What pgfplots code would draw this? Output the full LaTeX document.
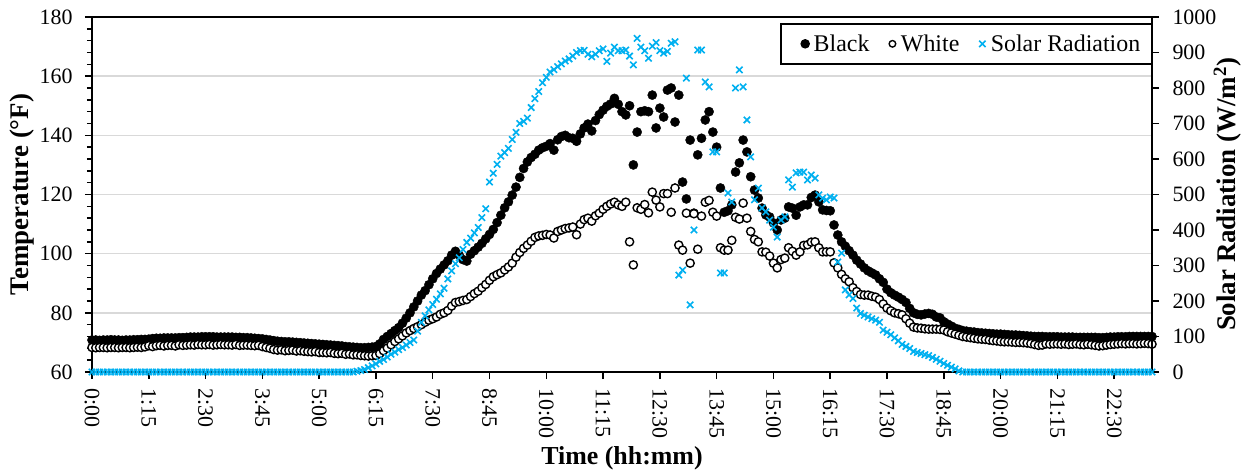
\documentclass[border=0pt]{standalone}
\usepackage{fontspec}
\setmainfont{Liberation Serif}
\usepackage{pgfplots}
\pgfplotsset{compat=1.18}
\usepackage{pgfplotstable}
\definecolor{solar}{RGB}{0,176,240}
\definecolor{gridgray}{RGB}{217,217,217}
\pgfplotstableread{
t b w s
0 70.8 68.3 0
5 70.8 68.2 0
10 70.7 68.3 0
15 70.8 68.3 0
20 70.8 68.2 0
25 70.9 68.3 0
30 70.8 68.3 0
35 70.8 68.2 0
40 70.7 68.3 0
45 70.8 68.3 0
50 70.8 68.2 0
55 70.9 68.3 0
60 70.9 68.4 0
65 71.0 68.3 0
70 71.0 68.5 0
75 71.1 68.9 0
80 71.3 68.6 0
85 71.4 68.9 0
90 71.4 69.0 0
95 71.5 68.8 0
100 71.5 69.0 0
105 71.5 69.0 0
110 71.5 68.8 0
115 71.6 69.2 0
120 71.6 69.0 0
125 71.7 69.1 0
130 71.8 69.2 0
135 71.8 69.1 0
140 71.8 69.3 0
145 71.9 69.2 0
150 71.9 69.2 0
155 71.9 69.3 0
160 71.9 69.1 0
165 71.8 69.2 0
170 71.8 69.3 0
175 71.8 69.2 0
180 71.8 69.2 0
185 71.8 69.1 0
190 71.7 69.3 0
195 71.7 69.0 0
200 71.6 69.1 0
205 71.6 69.1 0
210 71.5 69.0 0
215 71.4 68.9 0
220 71.3 69.0 0
225 71.2 68.6 0
230 71.0 68.3 0
235 70.8 68.0 0
240 70.6 67.6 0
245 70.4 67.4 0
250 70.3 67.5 0
255 70.2 67.2 0
260 70.2 67.3 0
265 70.1 67.4 0
270 70.0 67.1 0
275 69.9 67.2 0
280 69.8 67.0 0
285 69.7 66.9 0
290 69.6 66.8 0
295 69.5 66.9 0
300 69.4 66.6 0
305 69.3 66.6 0
310 69.2 66.5 0
315 69.1 66.6 0
320 69.0 66.3 0
325 68.9 66.2 0
330 68.8 66.3 0
335 68.6 66.0 0
340 68.5 66.1 0
345 68.4 65.8 0
350 68.3 65.8 2
355 68.2 65.6 4
360 68.2 65.5 7
365 68.3 65.4 12
370 68.4 65.5 17
375 68.6 65.6 23
380 69.5 66.2 30
385 71.0 67.2 35
390 72.0 68.1 42
395 73.0 69.2 50
400 74.0 70.3 56
405 75.0 71.2 63
410 76.5 72.2 69
415 78.2 73.2 76
420 80.0 74.0 83
425 82.0 74.7 90
430 84.0 75.3 115
435 86.0 76.0 140
440 87.5 76.8 158
445 89.5 77.5 175
450 91.5 78.0 190
455 93.3 78.6 205
460 94.8 79.5 220
465 96.2 80.0 236
470 97.6 80.8 262
475 99.5 82.3 285
480 100.8 83.5 305
485 99.5 83.8 322
490 98.0 84.2 345
495 97.5 84.5 365
500 99.8 85.5 377
505 101.0 86.5 392
510 102.2 87.3 407
515 103.5 88.5 435
520 105.0 89.6 460
525 106.5 91.0 535
530 108.2 92.2 560
535 110.5 92.9 585
540 113.0 93.5 608
545 115.5 94.5 618
550 117.5 95.5 630
555 119.8 96.8 655
560 122.5 98.8 675
565 125.8 100.4 700
570 128.8 101.8 706
575 131.0 102.9 715
580 132.5 104.2 745
585 133.6 105.5 770
590 135.0 106.0 790
595 135.8 106.2 815
600 136.3 106.5 830
605 137.2 106.3 845
610 135.0 105.3 852
615 138.5 107.5 860
620 139.6 108.0 868
625 140.0 108.5 876
630 139.2 108.7 882
635 139.0 109.0 890
640 138.0 106.4 900
645 140.5 110.0 905
650 142.5 111.5 906
655 143.8 112.0 895
660 141.5 111.0 888
665 145.0 112.8 895
670 147.0 113.7 905
675 148.5 115.0 910
680 149.8 116.0 875
685 150.6 116.8 898
690 152.5 117.4 915
695 150.5 116.5 905
700 148.0 116.0 905
705 146.9 117.4 907
710 150.0 104.0 890
715 130.0 96.2 865
720 141.1 115.5 940
725 148.0 115.0 915
730 148.3 116.6 905
735 148.0 113.8 884
740 153.6 120.8 918
745 142.5 118.1 928
750 149.2 115.8 905
755 146.2 120.3 898
760 155.3 120.3 903
765 156.0 114.0 926
770 144.5 122.2 930
775 153.6 102.9 273
780 124.2 101.2 287
785 118.5 113.7 828
790 138.4 96.8 189
795 113.7 113.5 400
800 133.4 101.5 907
805 139.0 112.7 907
810 145.2 117.4 817
815 148.0 118.0 803
820 141.1 114.0 620
825 136.0 112.7 620
830 122.2 102.0 279
835 114.0 101.2 279
840 114.5 101.2 504
845 116.5 104.5 479
850 127.6 112.3 800
855 130.7 111.7 851
860 138.4 117.1 803
865 134.4 112.0 710
870 126.0 107.5 606
875 121.5 104.8 485
880 118.8 104.0 518
885 115.4 100.6 462
890 113.1 100.5 451
895 112.4 99.2 428
900 110.4 96.8 408
905 108.0 95.2 380
910 111.4 98.0 428
915 112.0 98.5 437
920 115.8 102.0 541
925 115.4 100.8 521
930 113.0 99.5 561
935 115.8 100.6 563
940 116.5 102.8 563
945 116.5 103.0 541
950 119.0 103.9 555
955 119.8 104.0 546
960 117.5 102.0 499
965 114.8 100.6 490
970 114.6 100.6 485
975 114.5 100.6 493
980 109.7 96.9 490
985 106.3 95.2 310
990 104.0 93.0 335
995 102.5 91.5 231
1000 101.0 90.5 217
1005 99.5 88.5 207
1010 97.8 87.2 180
1015 96.5 86.2 165
1020 95.2 86.0 160
1025 94.2 86.0 155
1030 93.5 85.6 150
1035 92.8 85.3 146
1040 91.5 84.5 140
1045 90.3 83.0 118
1050 88.0 81.6 112
1055 86.8 80.7 105
1060 86.0 80.0 96
1065 85.3 79.7 88
1070 84.5 79.3 78
1075 83.5 78.0 72
1080 81.5 76.5 66
1085 80.0 75.2 58
1090 79.5 74.9 55
1095 79.3 74.8 52
1100 79.6 74.6 49
1105 79.8 74.5 46
1110 79.5 74.5 41
1115 78.6 74.5 36
1120 78.3 74.4 30
1125 77.0 74.2 24
1130 76.2 73.6 19
1135 75.5 73.2 14
1140 74.8 72.8 9
1145 74.4 72.4 3
1150 74.0 72.0 0
1155 73.8 71.8 0
1160 73.6 71.6 0
1165 73.5 71.4 0
1170 73.3 71.2 0
1175 73.2 71.1 0
1180 73.1 71.0 0
1185 73.0 70.8 0
1190 72.9 70.6 0
1195 72.8 70.5 0
1200 72.8 70.3 0
1205 72.7 70.2 0
1210 72.6 70.2 0
1215 72.5 70.1 0
1220 72.5 70.0 0
1225 72.4 70.0 0
1230 72.3 69.9 0
1235 72.2 69.8 0
1240 72.1 69.6 0
1245 72.0 69.3 0
1250 72.0 69.0 0
1255 72.0 69.1 0
1260 71.9 69.5 0
1265 71.9 69.4 0
1270 71.9 69.5 0
1275 71.9 69.5 0
1280 71.8 69.4 0
1285 71.8 69.5 0
1290 71.8 69.3 0
1295 71.8 69.4 0
1300 71.7 69.5 0
1305 71.7 69.3 0
1310 71.7 69.2 0
1315 71.7 69.4 0
1320 71.7 69.2 0
1325 71.7 69.0 0
1330 71.6 68.8 0
1335 71.6 68.9 0
1340 71.7 69.1 0
1345 71.8 69.3 0
1350 71.8 69.4 0
1355 71.9 69.5 0
1360 71.9 69.6 0
1365 71.9 69.5 0
1370 72.0 69.6 0
1375 72.0 69.6 0
1380 72.0 69.5 0
1385 72.0 69.6 0
1390 72.0 69.7 0
1395 72.0 69.6 0
1400 72.0 69.4 0
}\data

\pgfplotsset{
  common/.style={
    at={(92bp,103bp)}, anchor=south west,
    width=1060bp, height=355bp, scale only axis,
    xmin=0, xmax=1400,
    axis line style={line width=2bp, black},
    tick align=outside,
    major tick length=7bp, minor tick length=5bp,
    every tick/.style={black, line width=1.5bp},
    /pgf/number format/assume math mode=true,
    /pgf/number format/1000 sep={},
    tick label style={font=\fontsize{22}{26}\selectfont},
  }
}

\begin{document}
\begin{tikzpicture}
\begin{axis}[
  common,
  ymin=60, ymax=180,
  xtick={0,75,...,1350},
  xticklabels={0:00,1:15,2:30,3:45,5:00,6:15,7:30,8:45,10:00,11:15,12:30,13:45,15:00,16:15,17:30,18:45,20:00,21:15,22:30},
  xtick pos=bottom, ytick pos=left,
  ytick={60,80,...,180},
  minor y tick num=4,
  ymajorgrids,
  major grid style={gridgray, line width=1.5bp},
  xticklabel style={yshift=-6bp, rotate=-90, anchor=west},
  yticklabel style={xshift=-9bp},
  xlabel={Time (hh:mm)},
  xlabel style={at={(axis description cs:0.5,-0.242)}, anchor=center, font=\fontsize{26}{30}\selectfont\bfseries},
  ylabel={Temperature (°F)},
  ylabel style={at={(axis description cs:-0.066,0.5)}, anchor=center, font=\fontsize{27}{31}\selectfont\bfseries},
]
\addplot[only marks, mark=*, mark size=4.6bp, black] table[x=t, y=b]{\data};
\addplot[only marks, mark=*, mark size=4.1bp, mark options={draw=black, fill=white, line width=1.4bp}] table[x=t, y=w]{\data};
\end{axis}
\begin{axis}[
  common,
  ymin=0, ymax=1000,
  axis x line=none, axis y line*=right,
  ytick={0,100,...,1000},
  yticklabel style={xshift=10bp},
  ylabel={Solar Radiation (W/m\textsuperscript{2})},
  ylabel style={at={(axis description cs:1.071,0.5)}, anchor=center, font=\fontsize{27}{31}\selectfont\bfseries},
  legend image code/.code={\path[draw=none, fill=none] (-15bp,0bp) -- (4.5bp,0bp); \draw[#1] plot coordinates {(0bp,0bp)};},
  legend style={at={(1,0.983)}, anchor=north east, draw=black, line width=1.5bp,
    font=\fontsize{24}{28}\selectfont, inner ysep=9bp, inner xsep=9bp,
    /tikz/every odd column/.append style={column sep=2bp},
    /tikz/every even column/.append style={column sep=6bp}},
  legend columns=3,
]
\addlegendimage{only marks, mark=*, mark size=4bp, black}
\addlegendentry{Black}
\addlegendimage{only marks, mark=*, mark size=3.3bp, mark options={draw=black, fill=white, line width=1.4bp}}
\addlegendentry{White}
\addplot[only marks, mark=x, mark size=4.5bp, solar, mark options={line width=1.6bp}] table[x=t, y=s]{\data};
\addlegendentry{Solar Radiation}
\end{axis}
\pgfresetboundingbox
\path[use as bounding box] (0,0) rectangle (1247bp,475bp);
\end{tikzpicture}
\end{document}
